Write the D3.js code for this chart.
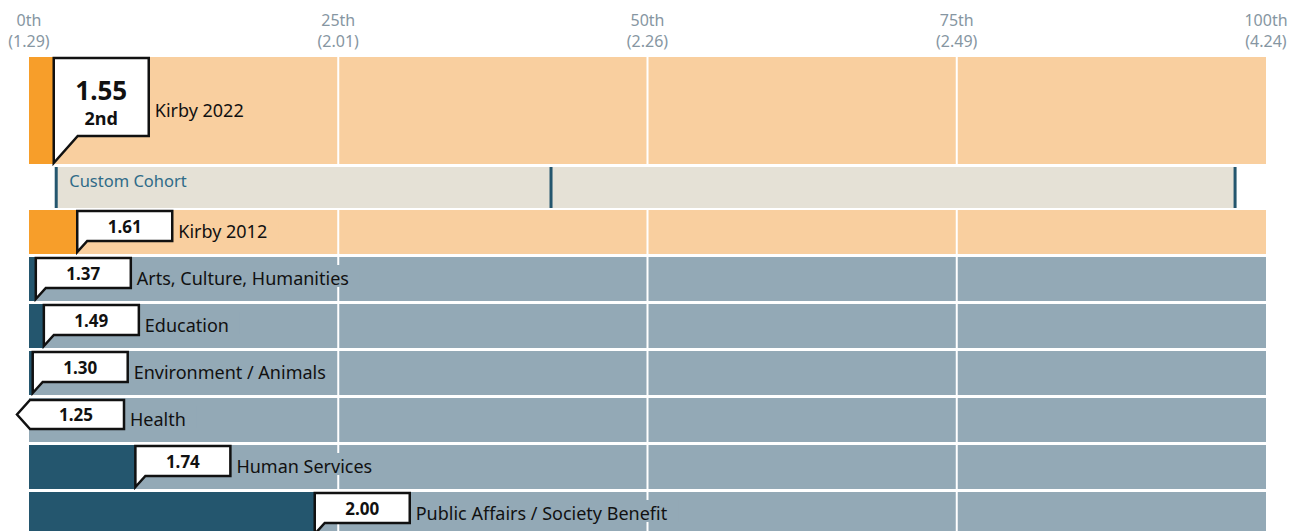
<!DOCTYPE html>
<html>
<head>
<meta charset="utf-8">
<script src="https://cdn.jsdelivr.net/npm/d3@7"></script>
<style>
  html, body { margin: 0; padding: 0; background: #fff; }
  svg { display: block; font-family: "Noto Sans", "Open Sans", sans-serif; }
</style>
</head>
<body>
<svg id="chart" width="1291" height="531"></svg>
<script>
// ---- data ----
const tickPercentiles = [0, 25, 50, 75, 100];
const tickLabels = ["0th", "25th", "50th", "75th", "100th"];
const tickValues = ["(1.29)", "(2.01)", "(2.26)", "(2.49)", "(4.24)"];

const featuredName = "Kirby 2022";
const featuredValue = "1.55";
const featuredRank = "2nd";
const featuredPercentile = 2;

const cohortLabel = "Custom Cohort";
const cohortMarkers = [2.2, 42.2, 97.5];

const categories = ["Kirby 2012", "Arts, Culture, Humanities", "Education", "Environment / Animals", "Health", "Human Services", "Public Affairs / Society Benefit"];
const values = ["1.61", "1.37", "1.49", "1.30", "1.25", "1.74", "2.00"];
const percentiles = [3.9, 0.55, 1.2, 0.3, 0, 8.6, 23.1];
const belowMin = [false, false, false, false, true, false, false];
const isOrg = [true, false, false, false, false, false, false];

// ---- colours ----
const C = {
  orangeLight: "#F9CF9F", orangeDark: "#F79E2A",
  blueLight: "#93A9B6", blueDark: "#24566E",
  cohortBg: "#E5E1D6", cohortText: "#2F6B88",
  axis: "#8696A2", text: "#111"
};

const svg = d3.select("#chart");
const x = d3.scaleLinear().domain([0, 100]).range([29, 1266]);

// axis labels
const axisG = svg.append("g");
tickPercentiles.forEach((p, i) => {
  const t = axisG.append("text").attr("x", x(p)).attr("text-anchor", "middle")
    .attr("fill", C.axis).style("font-size", "16px");
  t.append("tspan").attr("x", x(p)).attr("y", 26).text(tickLabels[i]);
  t.append("tspan").attr("x", x(p)).attr("y", 47).text(tickValues[i]);
});

const gridPs = tickPercentiles.slice(1, -1);

function drawRowBase(g, y0, h, light, dark, pct) {
  g.append("rect").attr("x", x(0)).attr("y", y0).attr("width", x(100) - x(0)).attr("height", h).attr("fill", light);
  gridPs.forEach(p => {
    g.append("line").attr("x1", x(p)).attr("x2", x(p)).attr("y1", y0).attr("y2", y0 + h)
      .attr("stroke", "#fff").attr("stroke-width", 2);
  });
  if (pct > 0) {
    g.append("rect").attr("x", x(0)).attr("y", y0).attr("width", x(pct) - x(0)).attr("height", h).attr("fill", dark);
  }
}

function drawLabel(g, lx, baseline, text, bg, size) {
  const bgRect = g.append("rect").attr("fill", bg);
  const t = g.append("text").attr("x", lx).attr("y", baseline).attr("fill", C.text)
    .style("font-size", size + "px").text(text);
  const w = t.node().getComputedTextLength();
  bgRect.attr("x", lx - 3).attr("y", baseline - 20).attr("width", w + 14).attr("height", 22);
}

// ---- featured row ----
const fTop = 57, fH = 107;
const fg = svg.append("g");
drawRowBase(fg, fTop, fH, C.orangeLight, C.orangeDark, featuredPercentile);
{
  const L = x(featuredPercentile), R = L + 95, T = fTop + 1, B = fTop + 79, tip = fTop + fH - 1;
  fg.append("path")
    .attr("d", `M${L},${T} L${R},${T} L${R},${B} L${L + 24},${B} L${L},${tip} Z`)
    .attr("fill", "#fff").attr("stroke", "#111").attr("stroke-width", 2.5).attr("stroke-linejoin", "miter");
  fg.append("text").attr("x", (L + R) / 2).attr("y", T + 42).attr("text-anchor", "middle")
    .attr("font-weight", "bold").style("font-size", "26px").attr("fill", C.text).text(featuredValue);
  fg.append("text").attr("x", (L + R) / 2).attr("y", T + 67).attr("text-anchor", "middle")
    .attr("font-weight", "bold").style("font-size", "18px").attr("fill", C.text).text(featuredRank);
  drawLabel(fg, R + 6, fTop + 60, featuredName, C.orangeLight, 18);
}

// ---- cohort row ----
const cTop = 167, cH = 41;
const cg = svg.append("g");
cg.append("rect").attr("x", x(cohortMarkers[0])).attr("y", cTop)
  .attr("width", x(cohortMarkers[2]) - x(cohortMarkers[0])).attr("height", cH).attr("fill", C.cohortBg);
cohortMarkers.forEach(p => {
  cg.append("rect").attr("x", x(p) - 1.5).attr("y", cTop).attr("width", 3).attr("height", cH).attr("fill", C.blueDark);
});
cg.append("text").attr("x", x(cohortMarkers[0]) + 13).attr("y", cTop + 20).attr("fill", C.cohortText)
  .style("font-size", "16.5px").text(cohortLabel);

// ---- category rows ----
const rowStep = 47;
const y = d3.scaleBand().domain(categories)
  .range([210, 210 + categories.length * rowStep - 3])
  .paddingInner(3 / rowStep).paddingOuter(0);

categories.forEach((cat, i) => {
  const g = svg.append("g");
  const y0 = y(cat), h = y.bandwidth();
  const light = isOrg[i] ? C.orangeLight : C.blueLight;
  const dark = isOrg[i] ? C.orangeDark : C.blueDark;
  drawRowBase(g, y0, h, light, dark, belowMin[i] ? 0 : percentiles[i]);
  let L, R;
  if (belowMin[i]) {
    L = x(0) + 1; R = L + 94;
    const T = y0 + 2, B = y0 + 31, mid = (T + B) / 2;
    g.append("path")
      .attr("d", `M${L},${T} L${R},${T} L${R},${B} L${L},${B} L${L - 13},${mid} Z`)
      .attr("fill", "#fff").attr("stroke", "#111").attr("stroke-width", 2.5);
    g.append("text").attr("x", (L + R) / 2 - 1).attr("y", T + 21).attr("text-anchor", "middle")
      .attr("font-weight", "bold").style("font-size", "17px").attr("fill", C.text).text(values[i]);
  } else {
    L = x(percentiles[i]); R = L + 95;
    const T = y0 + 1, B = y0 + 31, tip = y0 + h - 2;
    g.append("path")
      .attr("d", `M${L},${T} L${R},${T} L${R},${B} L${L + 10},${B} L${L},${tip} Z`)
      .attr("fill", "#fff").attr("stroke", "#111").attr("stroke-width", 2.5);
    g.append("text").attr("x", (L + R) / 2).attr("y", T + 22).attr("text-anchor", "middle")
      .attr("font-weight", "bold").style("font-size", "17px").attr("fill", C.text).text(values[i]);
  }
  drawLabel(g, R + 6, y0 + h / 2 + 6, cat, light, 18);
});
</script>
</body>
</html>
